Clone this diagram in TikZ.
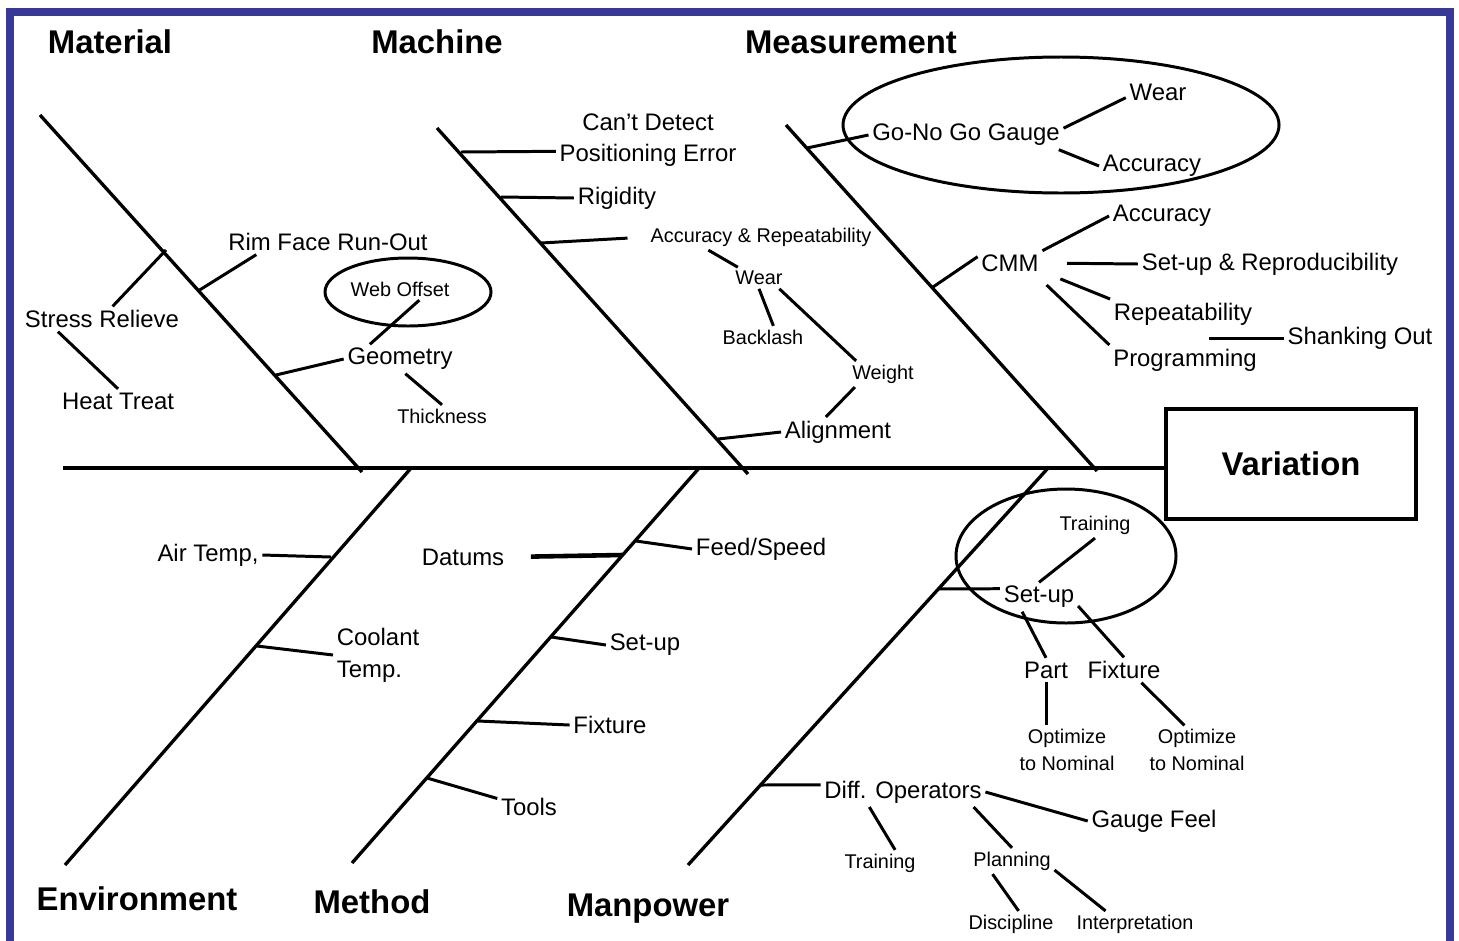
\documentclass[tikz,border=0pt]{standalone}
\usepackage{fontspec}
\setmainfont{Liberation Sans}
\definecolor{frameblue}{RGB}{56,56,152}
\begin{document}
\begin{tikzpicture}[x=0.02cm, y=-0.02cm,
    bone/.style={line width=1.9pt},
    twig/.style={line width=1.7pt},
    ring/.style={line width=1.7pt},
    catlabel/.style={font=\bfseries\fontsize{18.7}{22}\selectfont, inner sep=0pt},
    cause/.style={font=\fontsize{13.6}{18}\selectfont, inner sep=2pt},
    minor/.style={font=\fontsize{11.3}{15.3}\selectfont, inner sep=2pt}]
    \useasboundingbox (0,0) rectangle (1459,940);
    \fill[white] (0,0) rectangle (1459,940);
    \draw[frameblue, line width=4.5pt, line join=miter] (10,950) -- (10,12) -- (1450,12) -- (1450,950);

    \coordinate (MatTop) at (40,115);
    \coordinate (MatEnd) at (362,472);
    \coordinate (MacTop) at (437,128);
    \coordinate (MacEnd) at (748,474);
    \coordinate (MeaTop) at (786,125);
    \coordinate (MeaEnd) at (1097,471);
    \coordinate (EnvEnd) at (65,865);
    \coordinate (EnvTop) at (412,467);
    \coordinate (MetEnd) at (352,863);
    \coordinate (MetTop) at (700,467);
    \coordinate (ManEnd) at (688,865);
    \coordinate (ManTop) at (1049,467);
    \coordinate (SpineTail) at (63,468);

    \coordinate (MatA) at (166,250);
    \coordinate (MatB) at (198,291);
    \coordinate (MatC) at (276,375);
    \coordinate (MacA) at (461,152);
    \coordinate (MacB) at (501,197);
    \coordinate (MacC) at (541,243);
    \coordinate (MacD) at (718,439);
    \coordinate (MeaA) at (807,148);
    \coordinate (MeaB) at (933,287);
    \coordinate (EnvA) at (331,557);
    \coordinate (EnvB) at (257,646);
    \coordinate (MetA) at (622,555);
    \coordinate (MetB) at (636,541);
    \coordinate (MetC) at (551,637);
    \coordinate (MetD) at (478,721);
    \coordinate (MetE) at (427,778);
    \coordinate (ManA) at (938,589);
    \coordinate (ManB) at (761,785);

    \node[catlabel] (Material) at (110,42) {Material};
    \node[catlabel] (Machine) at (437,42) {Machine};
    \node[catlabel] (Measurement) at (851,42) {Measurement};
    \node[catlabel] (Environment) at (137,899) {Environment};
    \node[catlabel] (Method) at (372,902) {Method};
    \node[catlabel] (Manpower) at (648,909) {Manpower};
    \node[draw, line width=2.3pt, minimum width=5cm, minimum height=2.2cm,
          font=\bfseries\fontsize{18.7}{22}\selectfont] (Variation) at (1291,464) {Variation};

    \draw[bone] (MatTop) -- (MatEnd);
    \draw[bone] (MacTop) -- (MacEnd);
    \draw[bone] (MeaTop) -- (MeaEnd);
    \draw[bone] (EnvEnd) -- (EnvTop);
    \draw[bone] (MetEnd) -- (MetTop);
    \draw[bone] (ManEnd) -- (ManTop);
    \draw[line width=2.6pt] (SpineTail) -- (SpineTail -| Variation.west);

    \node[cause] (RimFace) at (328,242) {Rim Face Run-Out};
    \node[cause] (StressRelieve) at (102,319) {Stress Relieve};
    \node[cause] (HeatTreat) at (118,401) {Heat Treat};
    \node[cause] (Geometry) at (400,359) {Geometry};
    \node[minor] (WebOffset) at (400,289) {Web Offset};
    \node[minor] (Thickness) at (442,416) {Thickness};
    \draw[ring] (408,292) ellipse [x radius=83, y radius=34];

    \node[cause, align=center] (CantDetect) at (648,140) {Can’t Detect\\Positioning Error};
    \node[cause] (Rigidity) at (617,198) {Rigidity};
    \node[minor] (AccRep) at (761,237) {Accuracy \& Repeatability};
    \node[minor] (WearMach) at (759,278) {Wear};
    \node[minor] (Backlash) at (763,337) {Backlash};
    \node[minor] (Weight) at (883,374) {Weight};
    \node[cause] (Alignment) at (838,432) {Alignment};

    \node[cause] (GoNoGo) at (966,135) {Go-No Go Gauge};
    \node[cause] (WearGauge) at (1158,92) {Wear};
    \node[cause] (AccGauge) at (1152,166) {Accuracy};
    \draw[ring] (1061,125) ellipse [x radius=218, y radius=68];
    \node[cause] (CMM) at (1010,263) {CMM};
    \node[cause] (AccCMM) at (1162,216) {Accuracy};
    \node[cause] (SetupRepro) at (1270,264) {Set-up \& Reproducibility};
    \node[cause] (Repeat) at (1183,314) {Repeatability};
    \node[cause] (Programming) at (1185,360) {Programming};
    \node[cause] (Shanking) at (1360,338) {Shanking Out};

    \node[cause] (AirTemp) at (208,555) {Air Temp,};
    \node[cause, align=left, anchor=west] (Coolant) at (333,655) {Coolant\\Temp.};

    \node[cause] (Datums) at (463,557) {Datums};
    \node[cause] (FeedSpeed) at (761,549) {Feed/Speed};
    \node[cause] (SetupMethod) at (645,645) {Set-up};
    \node[cause] (FixtureMethod) at (610,725) {Fixture};
    \node[cause] (Tools) at (529,807) {Tools};

    \node[cause] (SetupMan) at (1039,597) {Set-up};
    \node[minor] (TrainingSetup) at (1095,525) {Training};
    \draw[ring] (1066,556) ellipse [x radius=110, y radius=67];
    \node[cause] (Part) at (1046,670) {Part};
    \node[cause] (FixtureMan) at (1124,670) {Fixture};
    \node[minor, align=center] (OptPart) at (1067,750) {Optimize\\to Nominal};
    \node[minor, align=center] (OptFix) at (1197,750) {Optimize\\to Nominal};
    \node[cause] (DiffOps) at (903,792) {Diff. Operators};
    \node[cause] (GaugeFeel) at (1154,821) {Gauge Feel};
    \node[minor] (TrainingOps) at (880,863) {Training};
    \node[minor] (Planning) at (1012,861) {Planning};
    \node[minor] (Discipline) at (1011,924) {Discipline};
    \node[minor] (Interpretation) at (1135,924) {Interpretation};

    \draw[twig] (MatA) -- (StressRelieve.50);
    \draw[twig] (StressRelieve.196) -- (HeatTreat.north);
    \draw[twig] (MatB) -- (RimFace.190);
    \draw[twig] (MatC) -- (Geometry.west);
    \draw[twig] (WebOffset.-30) -- (Geometry.154);
    \draw[twig] (Geometry.-70) -- (Thickness.north);

    \draw[twig] (MacA) -- (CantDetect.187);
    \draw[twig] (MacB) -- (Rigidity.west);
    \draw[twig, shorten >=11pt] (MacC) -- (AccRep.west);
    \draw[twig] (AccRep.194) -- (WearMach.153);
    \draw[twig] (WearMach.south) -- (Backlash.47);
    \draw[twig] (WearMach.-28) -- (Weight.154);
    \draw[twig] (Weight.205) -- (Alignment.129);
    \draw[twig] (MacD) -- (Alignment.west);

    \draw[twig] (MeaA) -- (GoNoGo.west);
    \draw[twig] (GoNoGo.4) -- (WearGauge.190);
    \draw[twig] (GoNoGo.-9) -- (AccGauge.west);
    \draw[twig] (MeaB) -- (CMM.169);
    \draw[twig] (CMM.north east) -- (AccCMM.west);
    \draw[twig, shorten <=14pt] (CMM.east) -- (SetupRepro.west);
    \draw[twig, shorten <=11pt] (CMM.-15) -- (Repeat.north west);
    \draw[twig, shorten <=8pt] (CMM.-25) -- (Programming.north west);
    \draw[twig] (Shanking.west -| Repeat.-30) -- (Shanking.west);

    \draw[twig] (EnvA) -- (AirTemp.east);
    \draw[twig] (EnvB) -- (Coolant.west);

    \draw[twig, line width=2.6pt, shorten >=13pt] (MetA) -- (Datums.east);
    \draw[twig] (MetB) -- (FeedSpeed.west);
    \draw[twig] (MetC) -- (SetupMethod.west);
    \draw[twig] (MetD) -- (FixtureMethod.west);
    \draw[twig] (MetE) -- (Tools.165);

    \draw[twig] (ManA) -- (SetupMan.168);
    \draw[twig] (SetupMan.north) -- (TrainingSetup.south);
    \draw[twig] (SetupMan.221) -- (Part.north);
    \draw[twig] (SetupMan.-13) -- (FixtureMan.north);
    \draw[twig] (Part.south) -- (Part.south |- OptPart.north);
    \draw[twig] (FixtureMan.-36) -- (OptFix.117);
    \draw[twig] (ManB) -- (DiffOps.175);
    \draw[twig] (DiffOps.east) -- (GaugeFeel.west);
    \draw[twig] (DiffOps.204) -- (TrainingOps.41);
    \draw[twig] (DiffOps.-12) -- (Planning.north);
    \draw[twig] (Planning.214) -- (Discipline.60);
    \draw[twig] (Planning.-12) -- (Interpretation.156);
\end{tikzpicture}
\end{document}
